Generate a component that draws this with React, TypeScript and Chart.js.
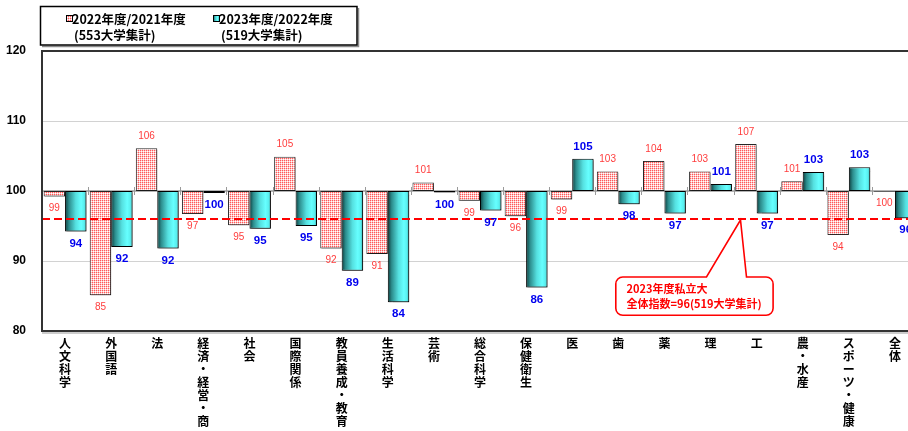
import { useEffect, useRef } from 'react';
import { Chart, registerables } from 'chart.js';

Chart.register(...registerables);

const categoryNames = [
  '人文科学', '外国語', '法', '経済・経営・商', '社会', '国際関係', '教員養成・教育',
  '生活科学', '芸術', '総合科学', '保健衛生', '医', '歯', '薬', '理', '工',
  '農・水産', 'スポーツ・健康', '全体',
];

// 2022年度/2021年度 (553大学集計)
const index2022 = [
  99.2, 85.1, 106.1, 96.7, 95.1, 104.9, 91.8, 91.0, 101.2, 98.6,
  96.4, 98.8, 102.8, 104.3, 102.8, 106.7, 101.4, 93.7, 99.9,
];

// 2023年度/2022年度 (519大学集計)
const index2023 = [
  94.2, 92.0, 91.8, 99.7, 94.6, 95.0, 88.6, 84.1, 99.8, 97.2,
  86.2, 104.6, 98.1, 96.8, 101.0, 96.8, 102.7, 103.4, 96.1,
];

const legend2022 = ['2022年度/2021年度', '(553大学集計)'];
const legend2023 = ['2023年度/2022年度', '(519大学集計)'];
const calloutLines = ['2023年度私立大', '全体指数=96(519大学集計)'];

const BASE = 100;
const OVERALL = 96;
const yTicks = [80, 90, 100, 110, 120];

const CAT_PCT = 0.93;
const CJK = '"Noto Sans CJK JP", sans-serif';
const LAT = '"Liberation Sans", Arial, sans-serif';

function makeGradient(ctx: CanvasRenderingContext2D, x0: number, x1: number) {
  const g = ctx.createLinearGradient(x0, 0, x1, 0);
  g.addColorStop(0, '#0b3b3b');
  g.addColorStop(0.18, '#2c8c8c');
  g.addColorStop(0.5, '#55e0e0');
  g.addColorStop(0.75, '#66ffff');
  g.addColorStop(0.9, '#58eeee');
  g.addColorStop(1, '#2e9a9a');
  return g;
}

export default function App() {
  const ref = useRef<HTMLCanvasElement>(null);

  useEffect(() => {
    document.body.style.margin = '0';
    const canvas = ref.current!;
    const ctx0 = canvas.getContext('2d')!;

    const pc = document.createElement('canvas');
    pc.width = 2;
    pc.height = 2;
    const p = pc.getContext('2d')!;
    p.fillStyle = '#ffffff';
    p.fillRect(0, 0, 2, 2);
    p.fillStyle = '#ff5a5a';
    p.fillRect(0, 0, 1, 1);
    p.fillStyle = '#ffc4c4';
    p.fillRect(1, 0, 1, 1);
    p.fillRect(0, 1, 1, 1);
    const pattern = ctx0.createPattern(pc, 'repeat')!;

    const shadowPlugin = {
      id: 'barShadow',
      beforeDatasetDraw(chart: any) {
        const ctx = chart.ctx;
        ctx.save();
        ctx.shadowColor = 'rgba(0,0,0,0.35)';
        ctx.shadowOffsetX = 1.5;
        ctx.shadowOffsetY = 1.5;
        ctx.shadowBlur = 1;
      },
      afterDatasetDraw(chart: any) {
        chart.ctx.restore();
      },
    };

    const deco = {
      id: 'deco',
      beforeDatasetsDraw(chart: any) {
        const { ctx, chartArea: a, scales } = chart;
        const y100 = scales.y.getPixelForValue(BASE);
        const n = categoryNames.length;
        const w = (a.right - a.left) / n;
        ctx.save();
        ctx.strokeStyle = '#9a9a9a';
        ctx.lineWidth = 1.5;
        ctx.beginPath();
        ctx.moveTo(a.left, y100);
        ctx.lineTo(a.right, y100);
        ctx.stroke();
        ctx.lineWidth = 1;
        for (let i = 1; i < n; i++) {
          const x = Math.round(a.left + i * w) + 0.5;
          ctx.beginPath();
          ctx.moveTo(x, y100 - 4);
          ctx.lineTo(x, y100 + 4);
          ctx.stroke();
        }
        ctx.restore();
      },
      afterDatasetsDraw(chart: any) {
        const { ctx, chartArea: a, scales } = chart;
        const ys = scales.y;
        // overall index dashed line
        const yo = ys.getPixelForValue(OVERALL);
        ctx.save();
        ctx.strokeStyle = '#ff0000';
        ctx.lineWidth = 2;
        ctx.setLineDash([8, 4]);
        ctx.beginPath();
        ctx.moveTo(a.left, yo);
        ctx.lineTo(a.right, yo);
        ctx.stroke();
        ctx.setLineDash([]);

        // value labels
        const series = [index2022, index2023];
        ctx.textAlign = 'center';
        ctx.textBaseline = 'middle';
        series.forEach((vals, di) => {
          const meta = chart.getDatasetMeta(di);
          ctx.fillStyle = di === 0 ? '#ff3c3c' : '#0000ee';
          ctx.font = di === 0 ? `normal 10px ${LAT}` : `bold 11.5px ${LAT}`;
          meta.data.forEach((el: any, i: number) => {
            const v = vals[i];
            const py = ys.getPixelForValue(v);
            const ly = v >= BASE ? py - 12 : py + 12;
            ctx.fillText(String(Math.round(v)), el.x, ly);
          });
        });

        // plot border
        ctx.strokeStyle = '#333';
        ctx.lineWidth = 2;
        ctx.beginPath();
        ctx.moveTo(a.right, a.top);
        ctx.lineTo(a.left, a.top);
        ctx.lineTo(a.left, a.bottom);
        ctx.lineTo(a.right, a.bottom);
        ctx.stroke();
        ctx.strokeStyle = '#9a9a9a';
        ctx.lineWidth = 1;
        ctx.beginPath();
        ctx.moveTo(a.left, a.bottom + 2);
        ctx.lineTo(a.right, a.bottom + 2);
        ctx.stroke();
        ctx.restore();
      },
      afterDraw(chart: any) {
        const { ctx, chartArea: a, scales } = chart;
        const xs = scales.x;
        const ys = scales.y;
        const n = categoryNames.length;
        const w = (a.right - a.left) / n;

        // callout
        const tipX = xs.getPixelForValue(15) - w * 0.35;
        const tipY = ys.getPixelForValue(OVERALL) + 1;
        const bx = tipX - 124.7;
        const by = tipY + 57;
        const bw = 157.3;
        const bh = 38.3;
        const r = 7;
        ctx.save();
        ctx.beginPath();
        ctx.moveTo(bx + r, by);
        ctx.lineTo(tipX - 34, by);
        ctx.lineTo(tipX, tipY);
        ctx.lineTo(tipX + 6, by);
        ctx.lineTo(bx + bw - r, by);
        ctx.arcTo(bx + bw, by, bx + bw, by + r, r);
        ctx.lineTo(bx + bw, by + bh - r);
        ctx.arcTo(bx + bw, by + bh, bx + bw - r, by + bh, r);
        ctx.lineTo(bx + r, by + bh);
        ctx.arcTo(bx, by + bh, bx, by + bh - r, r);
        ctx.lineTo(bx, by + r);
        ctx.arcTo(bx, by, bx + r, by, r);
        ctx.closePath();
        ctx.fillStyle = '#ffffff';
        ctx.fill();
        ctx.strokeStyle = '#ff0000';
        ctx.lineWidth = 1.6;
        ctx.stroke();
        ctx.fillStyle = '#ff0000';
        ctx.font = `bold 11px ${CJK}`;
        ctx.textAlign = 'left';
        ctx.textBaseline = 'middle';
        ctx.fillText(calloutLines[0], bx + 10.7, by + 12.3);
        ctx.fillText(calloutLines[1], bx + 10.7, by + 26.8);

        // legend
        ctx.strokeStyle = '#8a8a8a';
        ctx.lineWidth = 1.5;
        ctx.beginPath();
        ctx.moveTo(42, 46.5);
        ctx.lineTo(358.5, 46.5);
        ctx.lineTo(358.5, 8);
        ctx.stroke();
        ctx.strokeStyle = '#000';
        ctx.lineWidth = 1.5;
        ctx.fillStyle = '#fff';
        ctx.fillRect(40.5, 6.5, 316.5, 38.5);
        ctx.strokeRect(40.5, 6.5, 316.5, 38.5);

        const items = [
          { mx: 66, tx: 72, tx2: 74, lines: legend2022, fill: pattern as any },
          { mx: 213, tx: 219, tx2: 221, lines: legend2023, fill: makeGradient(ctx, 213, 219) },
        ];
        items.forEach((it) => {
          ctx.fillStyle = it.fill;
          ctx.fillRect(it.mx, 15.5, 6, 6);
          ctx.strokeStyle = '#000';
          ctx.lineWidth = 1;
          ctx.strokeRect(it.mx + 0.5, 15.5, 6, 6);
          ctx.fillStyle = '#000';
          ctx.font = `bold 12.5px ${CJK}`;
          ctx.textAlign = 'left';
          ctx.textBaseline = 'middle';
          ctx.fillText(it.lines[0], it.tx, 19);
          ctx.fillText(it.lines[1], it.tx2, 35);
        });
        ctx.restore();
      },
    };

    const chart = new Chart(canvas, {
      type: 'bar',
      data: {
        labels: categoryNames.map((s) => Array.from(s)),
        datasets: [
          {
            label: legend2022.join(''),
            data: index2022.map((v) => [BASE, v]) as any,
            backgroundColor: pattern as any,
            borderColor: '#262626',
            borderWidth: 1,
            borderSkipped: false,
            categoryPercentage: CAT_PCT,
            barPercentage: 1,
          },
          {
            label: legend2023.join(''),
            data: index2023.map((v) => [BASE, v]) as any,
            backgroundColor: (c: any) => {
              const ch = c.chart;
              const xs = ch.scales && ch.scales.x;
              const a = ch.chartArea;
              if (!xs || !a || c.type !== 'data') return '#44dddd';
              const catW = (a.right - a.left) / categoryNames.length;
              const slot = (catW * CAT_PCT) / 2;
              const cx = xs.getPixelForValue(c.dataIndex) + slot / 2;
              return makeGradient(ch.ctx, cx - slot / 2, cx + slot / 2);
            },
            borderColor: '#000',
            borderWidth: 1,
            borderSkipped: false,
            categoryPercentage: CAT_PCT,
            barPercentage: 1,
          },
        ],
      },
      options: {
        responsive: false,
        animation: false,
        layout: { padding: { top: 51, right: 22, left: 0, bottom: 0 } },
        plugins: {
          legend: { display: false },
          tooltip: { enabled: false },
        },
        scales: {
          x: {
            grid: { display: false },
            border: { display: false },
            ticks: {
              autoSkip: false,
              maxRotation: 0,
              minRotation: 0,
              padding: -2,
              color: '#000',
              font: { family: CJK, size: 12, weight: 'bold', lineHeight: '13px' },
            },
            afterFit: (s: any) => {
              s.height = 100;
            },
          },
          y: {
            min: yTicks[0],
            max: yTicks[yTicks.length - 1],
            afterBuildTicks: (s: any) => {
              s.ticks = yTicks.map((v) => ({ value: v }));
            },
            ticks: {
              padding: 16,
              color: '#000',
              font: { family: LAT, size: 12, weight: 'bold' },
            },
            grid: {
              drawTicks: false,
              lineWidth: 1,
              color: (c: any) =>
                c.tick && (c.tick.value === 110 || c.tick.value === 90) ? '#d2d2d2' : 'rgba(0,0,0,0)',
            },
            border: { display: false },
            afterFit: (s: any) => {
              s.width = 42;
            },
          },
        },
      },
      plugins: [shadowPlugin, deco],
    });

    return () => chart.destroy();
  }, []);

  return (
    <div style={{ width: 908, height: 431, overflow: 'hidden', position: 'relative', background: '#fff' }}>
      <canvas ref={ref} width={940} height={431} style={{ display: 'block', width: 940, height: 431 }} />
    </div>
  );
}
